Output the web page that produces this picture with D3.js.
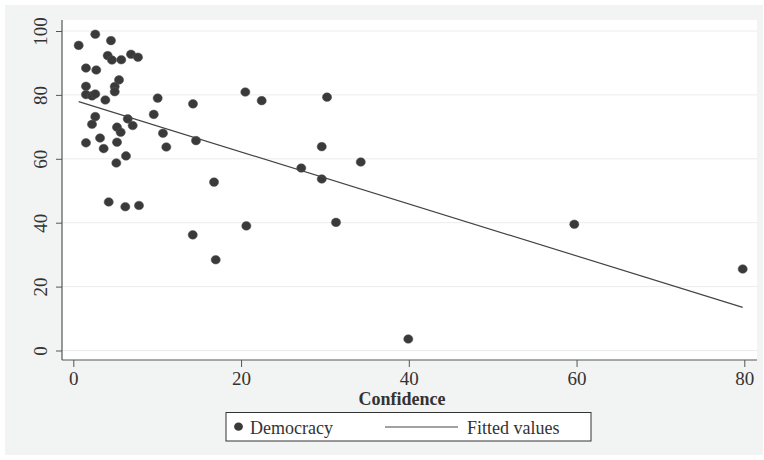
<!DOCTYPE html>
<html>
<head>
<meta charset="utf-8">
<script src="https://cdn.jsdelivr.net/npm/d3@7"></script>
<style>
  body { margin: 0; background: #fff; }
</style>
</head>
<body>
<svg id="chart" width="764" height="460"></svg>
<script>
// confidence (x) and democracy (y) for each country
const confidence = [
  0.64, 2.62, 4.49, 4.10, 4.61, 5.72, 6.88, 7.71, 1.51, 2.74,
  5.45, 1.51, 4.94, 4.94, 1.51, 2.23, 2.62, 3.82, 10.06, 9.59,
  2.62, 6.49, 2.23, 5.21, 5.65, 7.08, 10.69, 3.19, 1.51, 3.62,
  5.21, 11.09, 6.28, 5.13, 4.22, 6.20, 7.83, 14.27, 14.63, 16.78,
  14.24, 16.98, 20.51, 22.46, 20.63, 27.18, 29.62, 29.62, 30.25, 31.32,
  34.27, 39.94, 59.73, 79.81
];
const democracy = [
  95.5, 99.0, 97.0, 92.3, 90.9, 91.0, 92.7, 91.8, 88.4, 87.8,
  84.7, 82.7, 82.6, 81.0, 80.1, 79.7, 80.3, 78.4, 79.0, 73.9,
  73.2, 72.5, 70.8, 69.9, 68.3, 70.4, 68.0, 66.5, 65.0, 63.2,
  65.2, 63.7, 60.9, 58.7, 46.5, 45.0, 45.4, 77.2, 65.7, 52.7,
  36.2, 28.4, 80.9, 78.2, 39.0, 57.1, 63.8, 53.7, 79.3, 40.1,
  59.0, 3.6, 39.5, 25.5
];
// fitted values line end points
const fittedX = [0.64, 79.81];
const fittedY = [77.9, 13.5];

const xTicks = [0, 20, 40, 60, 80];
const yTicks = [0, 20, 40, 60, 80, 100];
const legendLabels = ["Democracy", "Fitted values"];

const serif = '"Liberation Serif", "Times New Roman"';
const svg = d3.select("#chart");
const plotLeft = 62, plotRight = 757, plotTop = 20, plotBottom = 360;
const markerColor = "#3a3a3a";
const lineColor = "#444";
const textColor = "#333";

const x = d3.scaleLinear().domain([0, 80]).range([73.3, 744.3]);
const y = d3.scaleLinear().domain([0, 100]).range([350.5, 31]);

// outer background and plot region
svg.append("rect")
  .attr("x", 5).attr("y", 5)
  .attr("width", 758).attr("height", 450)
  .style("fill", "#f2f4f3");

svg.append("rect")
  .attr("x", plotLeft).attr("y", plotTop)
  .attr("width", plotRight - plotLeft).attr("height", plotBottom - plotTop)
  .style("fill", "#fff");

// horizontal grid lines
svg.append("g")
  .selectAll("line")
  .data(yTicks)
  .join("line")
  .attr("x1", plotLeft).attr("x2", plotRight)
  .attr("y1", d => y(d)).attr("y2", d => y(d))
  .style("stroke", "#ececec")
  .style("stroke-width", 1);

// axes
const xAxis = svg.append("g")
  .attr("transform", "translate(0," + plotBottom + ")")
  .call(d3.axisBottom(x).tickValues(xTicks).tickSize(7).tickSizeOuter(0))
  .attr("font-family", serif)
  .attr("font-size", 19);
xAxis.select(".domain").remove();
xAxis.selectAll(".tick line").style("stroke", "#555");
xAxis.selectAll(".tick text")
  .attr("y", 25)
  .attr("dy", 0)
  .style("fill", textColor);

const yAxis = svg.append("g")
  .attr("transform", "translate(" + plotLeft + ",0)")
  .call(d3.axisLeft(y).tickValues(yTicks).tickSize(6).tickSizeOuter(0))
  .attr("font-family", serif)
  .attr("font-size", 19);
yAxis.select(".domain").remove();
yAxis.selectAll(".tick line").style("stroke", "#555");
yAxis.selectAll(".tick text")
  .attr("x", 0).attr("dy", 0)
  .attr("text-anchor", "middle")
  .attr("transform", "translate(-15,0) rotate(-90)")
  .style("fill", textColor);

svg.append("line")
  .attr("x1", plotLeft).attr("x2", plotLeft)
  .attr("y1", plotTop).attr("y2", plotBottom)
  .style("stroke", "#555").style("stroke-width", 1.2);
svg.append("line")
  .attr("x1", plotLeft).attr("x2", plotRight)
  .attr("y1", plotBottom).attr("y2", plotBottom)
  .style("stroke", "#555").style("stroke-width", 1.2);

svg.append("text")
  .attr("x", 402).attr("y", 405)
  .attr("text-anchor", "middle")
  .attr("font-family", serif)
  .attr("font-size", 18)
  .attr("font-weight", "bold")
  .style("fill", textColor)
  .text("Confidence");

// scatter points
svg.append("g")
  .selectAll("ellipse")
  .data(confidence.map((c, i) => [c, democracy[i]]))
  .join("ellipse")
  .attr("cx", d => x(d[0]))
  .attr("cy", d => y(d[1]))
  .attr("rx", 4.6).attr("ry", 4.3)
  .style("fill", markerColor)
  .style("stroke", "#555")
  .style("stroke-width", 0.5);

// fitted line
svg.append("path")
  .datum(fittedX.map((v, i) => [v, fittedY[i]]))
  .attr("d", d3.line().x(d => x(d[0])).y(d => y(d[1])))
  .style("fill", "none")
  .style("stroke", lineColor)
  .style("stroke-width", 1.2);

// legend
const legend = svg.append("g")
  .attr("font-family", serif)
  .attr("font-size", 18);
legend.append("rect")
  .attr("x", 226).attr("y", 412.5)
  .attr("width", 365).attr("height", 28.5)
  .style("fill", "#fff")
  .style("stroke", "#333")
  .style("stroke-width", 1);
legend.append("ellipse")
  .attr("cx", 238.5).attr("cy", 426.7)
  .attr("rx", 4.4).attr("ry", 4.1)
  .style("fill", markerColor);
legend.append("text")
  .attr("x", 250).attr("y", 434)
  .style("fill", textColor)
  .text(legendLabels[0]);
legend.append("line")
  .attr("x1", 385).attr("x2", 458)
  .attr("y1", 427).attr("y2", 427)
  .style("stroke", lineColor)
  .style("stroke-width", 1.2);
legend.append("text")
  .attr("x", 467).attr("y", 434)
  .style("fill", textColor)
  .text(legendLabels[1]);
</script>
</body>
</html>
